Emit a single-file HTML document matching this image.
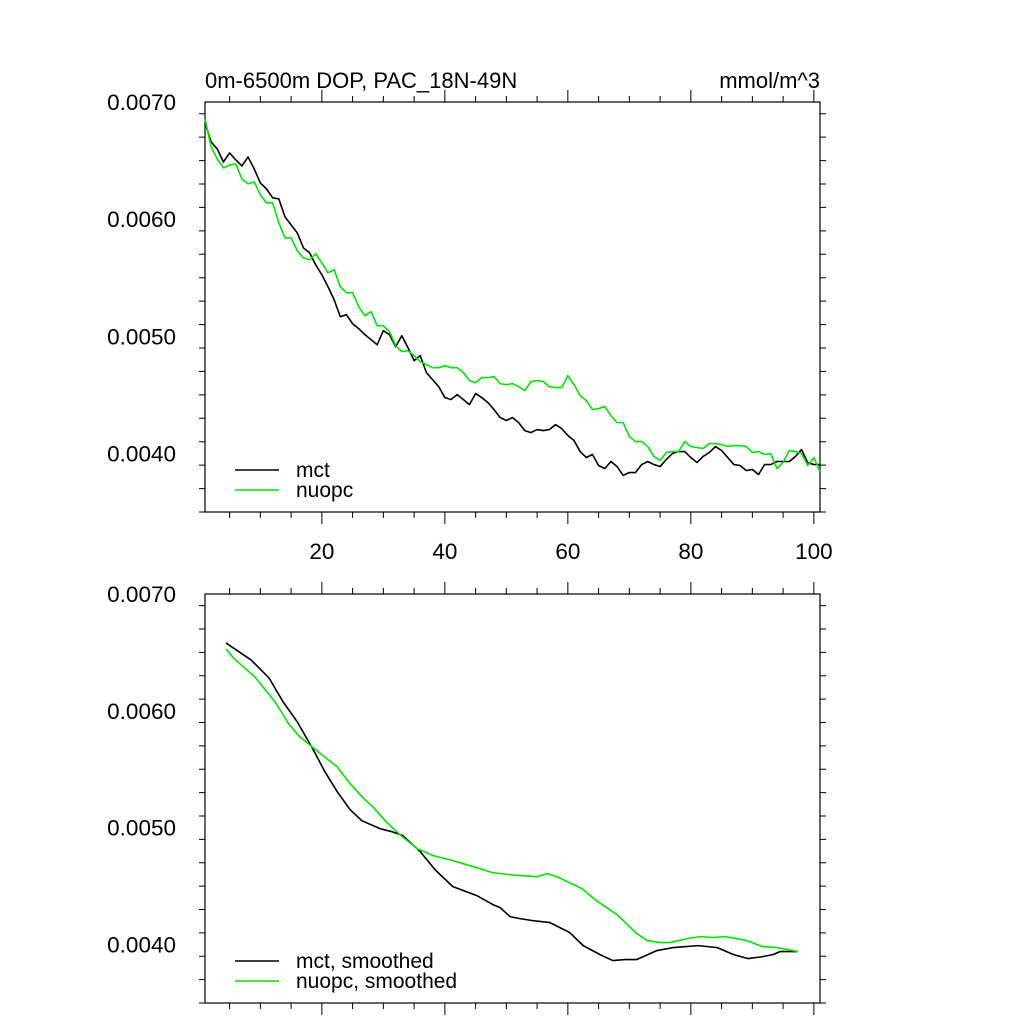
<!DOCTYPE html>
<html><head><meta charset="utf-8"><style>
html,body{margin:0;padding:0;background:#fff}
svg{display:block}
text{font-family:"Liberation Sans",sans-serif;fill:#000}
</style></head><body>
<svg id="chart" width="1024" height="1024" viewBox="0 0 1024 1024" xmlns="http://www.w3.org/2000/svg">
<text x="205" y="88" font-size="22">0m-6500m DOP, PAC_18N-49N</text>
<text x="820" y="88" font-size="22" text-anchor="end">mmol/m^3</text>
</svg>
<script>
const topIndex = Array.from({length:101},(_,k)=>k+1);
const mctRaw = [6.821,6.659,6.599,6.488,6.565,6.506,6.454,6.531,6.429,6.309,6.258,6.182,6.173,6.020,5.951,5.883,5.755,5.713,5.610,5.525,5.423,5.312,5.167,5.184,5.107,5.065,5.014,4.971,4.928,5.048,5.014,4.911,5.005,4.903,4.792,4.835,4.690,4.630,4.570,4.477,4.460,4.502,4.460,4.417,4.511,4.477,4.434,4.374,4.306,4.281,4.306,4.263,4.195,4.178,4.204,4.195,4.204,4.246,4.212,4.153,4.110,4.016,3.965,3.991,3.897,3.871,3.931,3.888,3.812,3.837,3.837,3.905,3.931,3.905,3.888,3.948,3.999,4.016,4.016,3.965,3.922,3.974,4.008,4.059,4.025,3.965,3.905,3.897,3.854,3.863,3.820,3.905,3.905,3.931,3.931,3.931,3.974,4.033,3.922,3.905,3.905];
const nuopcRaw = [6.855,6.616,6.514,6.437,6.463,6.471,6.344,6.301,6.318,6.207,6.139,6.139,5.968,5.841,5.841,5.730,5.670,5.653,5.704,5.627,5.542,5.568,5.423,5.372,5.372,5.252,5.176,5.210,5.090,5.090,5.039,4.920,4.869,4.877,4.835,4.783,4.758,4.732,4.732,4.749,4.732,4.732,4.690,4.622,4.604,4.647,4.647,4.656,4.596,4.587,4.596,4.570,4.536,4.613,4.622,4.613,4.570,4.562,4.562,4.664,4.587,4.494,4.451,4.374,4.383,4.400,4.323,4.263,4.263,4.144,4.101,4.101,4.059,3.974,3.940,4.008,4.016,4.016,4.101,4.059,4.050,4.042,4.084,4.084,4.076,4.059,4.067,4.067,4.059,4.008,4.016,3.991,3.999,3.871,3.922,4.025,4.016,3.999,3.897,3.965,3.846];
const mctSmX = [4.41,8.48,11.4,13.7,16.0,18.6,20.5,22.5,24.6,26.5,29.5,31.4,33.2,36.0,38.4,41.3,45.2,47.8,49.0,50.6,52.2,54.3,57.1,60.3,62.5,65.2,67.3,69.3,71.2,74.5,77.1,81.2,84.3,86.9,89.3,91.7,93.4,94.5,97.4];
const mctSmY = [6.581,6.436,6.282,6.077,5.906,5.667,5.479,5.308,5.154,5.060,4.991,4.966,4.932,4.795,4.641,4.496,4.419,4.342,4.316,4.239,4.222,4.205,4.188,4.103,3.991,3.915,3.863,3.872,3.872,3.949,3.974,3.991,3.974,3.915,3.880,3.897,3.915,3.940,3.940];
const nuopcSmX = [4.4,5.6,9.1,12.4,14.5,16.4,18.4,22.5,24.6,26.7,28.3,30.6,32.7,35.5,38.1,40.8,45.2,47.8,49.0,52.2,55.1,56.6,58.2,62.3,64.4,68.0,71.2,72.9,75.0,76.6,79.4,81.5,83.6,85.6,89.1,91.6,94.0,97.4];
const nuopcSmY = [6.530,6.453,6.291,6.077,5.897,5.778,5.692,5.521,5.376,5.256,5.179,5.043,4.940,4.821,4.761,4.726,4.658,4.615,4.607,4.590,4.581,4.607,4.581,4.479,4.385,4.256,4.094,4.034,4.017,4.017,4.051,4.068,4.060,4.068,4.034,3.983,3.974,3.940];
const yTickVals = [0.0040,0.0050,0.0060,0.0070];
const yTickLabels = ["0.0040","0.0050","0.0060","0.0070"];
const xTickVals = [20,40,60,80,100];
const xTickLabels = ["20","40","60","80","100"];

const NS="http://www.w3.org/2000/svg";
const svg=document.getElementById('chart');
function mk(tag,attrs,parent){const e=document.createElementNS(NS,tag);for(const k in attrs)e.setAttribute(k,attrs[k]);(parent||svg).appendChild(e);return e;}
const L=205,R=820;
const xs=v=>L+(v-1)*(R-L)/100;
function panel(top,bottom,name,showXLabels,series,legend){
  const ys=v=>top+(0.0070-v)*(bottom-top)/0.0035;
  const g=mk('g',{});
  
  
  const fr=mk('rect',{x:L,y:top,width:R-L,height:bottom-top,fill:'none',stroke:'#000','stroke-width':1.2},g);
  
  
  let d='';
  for(let v=5;v<=100;v+=5){const x=xs(v);const len=(v%20===0)?12:6;
    d+=`M${x},${bottom}v${len}M${x},${top}v${-len}`;}
  for(let k=0;k<=35;k+=2){const v=0.0035+k*0.0001;const y=ys(v);const len=(k%10===5)?12:6;
    d+=`M${L},${y}h${-len}M${R},${y}h${len}`;}
  const tk=mk('path',{d:d,stroke:'#000','stroke-width':1,fill:'none'},g);
  
  
  yTickVals.forEach((v,i)=>{const t=mk('text',{x:176,y:ys(v)+8,'font-size':22.5,'text-anchor':'end'},g);t.textContent=yTickLabels[i];
    
    });
  if(showXLabels) xTickVals.forEach((v,i)=>{const t=mk('text',{x:xs(v),y:bottom+47,'font-size':22.5,'text-anchor':'middle'},g);t.textContent=xTickLabels[i];
    
    });
  series.forEach(s=>{const p=mk('polyline',{points:s.x.map((xv,i)=>xs(xv)+','+ys(s.y[i]/1000)).join(' '),fill:'none',stroke:s.c,'stroke-width':1.6,'stroke-linejoin':'round'},g);
    
    });
  legend.forEach((l,i)=>{const y=bottom-42+i*20;
    const ln=mk('line',{x1:235,x2:279,y1:y,y2:y,stroke:l.c,'stroke-width':1.6},g);
    
    
    const t=mk('text',{x:296,y:y+7,'font-size':21},g);t.textContent=l.t;
    
    });
}
panel(102,512,'top-panel',true,[{x:topIndex,y:mctRaw,c:'#000',n:'mct-line'},{x:topIndex,y:nuopcRaw,c:'#00e600',n:'nuopc-line'}],[{t:'mct',c:'#000'},{t:'nuopc',c:'#00e600'}]);
panel(594,1003,'bottom-panel',false,[{x:mctSmX,y:mctSmY,c:'#000',n:'mct-smoothed-line'},{x:nuopcSmX,y:nuopcSmY,c:'#00e600',n:'nuopc-smoothed-line'}],[{t:'mct, smoothed',c:'#000'},{t:'nuopc, smoothed',c:'#00e600'}]);
</script>
</body></html>
